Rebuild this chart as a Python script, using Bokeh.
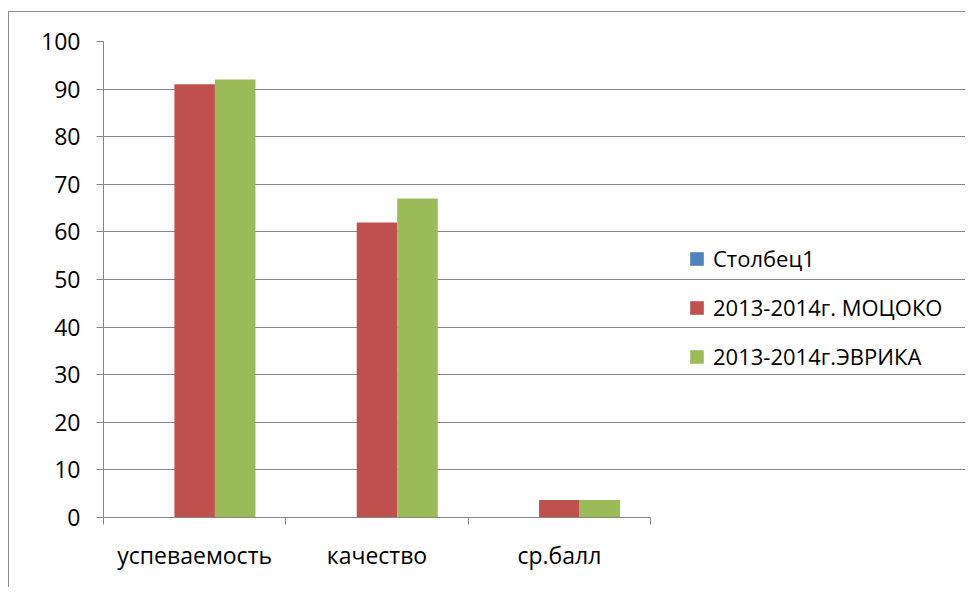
import numpy as np
from bokeh.plotting import figure
from bokeh.models import ColumnDataSource, Range1d, FixedTicker, Legend, LegendItem
from bokeh.transform import dodge
from bokeh.embed import file_html
from bokeh.resources import INLINE

categories = ["успеваемость", "качество", "ср.балл"]
series_names = ["Столбец1", "2013-2014г. МОЦОКО", "2013-2014г.ЭВРИКА"]
stolbec1 = [0, 0, 0]
mocoko = [91, 62, 3.7]
evrika = [92, 67, 3.7]
y_ticks = list(range(0, 101, 10))

colors = ["#4f81bd", "#c0504d", "#9bbb59"]
FONT = "Open Sans"
GRID = "#868686"

n = len(categories)
x_pos = [i + 0.5 for i in range(n)]
src = ColumnDataSource(dict(x=x_pos, s1=stolbec1, s2=mocoko, s3=evrika))

# plotting area spans 547px for the categories; frame extends right to host the legend
FRAME_W = 862
CAT_W = 547
p = figure(frame_width=FRAME_W, frame_height=476, output_backend="svg", toolbar_location=None,
           x_range=Range1d(0, n * FRAME_W / CAT_W), y_range=Range1d(0, 100),
           min_border_left=94, min_border_right=0, min_border_top=29,
           min_border_bottom=70)
p.styles = {"border-left": "1px solid #8c8c8c", "border-top": "1px solid #8c8c8c",
            "margin-top": "11px", "margin-left": "8px"}
p.outline_line_color = None
p.background_fill_color = "white"

bw = 1 / 4.5
renderers = []
for field, off, col in zip(["s1", "s2", "s3"], [-bw, 0, bw], colors):
    r = p.vbar(x=dodge("x", off, range=p.x_range), top=field, width=bw, source=src,
               fill_color=col, line_color=None)
    renderers.append(r)

# x axis
xa = p.xaxis[0]
xa.bounds = (0, n)
xa.ticker = FixedTicker(ticks=x_pos, minor_ticks=list(range(n + 1)))
xa.major_label_overrides = {x: c for x, c in zip(x_pos, categories)}
xa.major_tick_line_color = None
xa.major_tick_out = 0
xa.major_tick_in = 0
xa.minor_tick_line_color = GRID
xa.minor_tick_out = 7
xa.minor_tick_in = 0
xa.axis_line_color = GRID
xa.major_label_text_font = FONT
xa.major_label_text_font_size = "23px"
xa.major_label_text_color = "black"
xa.major_label_standoff = 14

# y axis
ya = p.yaxis[0]
ya.ticker = FixedTicker(ticks=y_ticks)
ya.minor_tick_line_color = None
ya.major_tick_line_color = GRID
ya.major_tick_out = 7
ya.major_tick_in = 0
ya.axis_line_color = GRID
ya.major_label_text_font = FONT
ya.major_label_text_font_size = "23px"
ya.major_label_text_color = "black"
ya.major_label_standoff = 16

p.xgrid.grid_line_color = None
p.ygrid.grid_line_color = GRID
p.ygrid.ticker = FixedTicker(ticks=y_ticks)
p.ygrid.bounds = (0, n)

legend = Legend(items=[LegendItem(label=s, renderers=[r]) for s, r in zip(series_names, renderers)],
                location=(585, 146), glyph_width=17, glyph_height=17, label_standoff=8,
                label_text_font=FONT, label_text_font_size="22px", label_text_color="black",
                spacing=19, padding=0, margin=0, border_line_color=None,
                background_fill_alpha=0)
p.add_layout(legend, "center")

open("out.html", "w").write(file_html(p, INLINE))
